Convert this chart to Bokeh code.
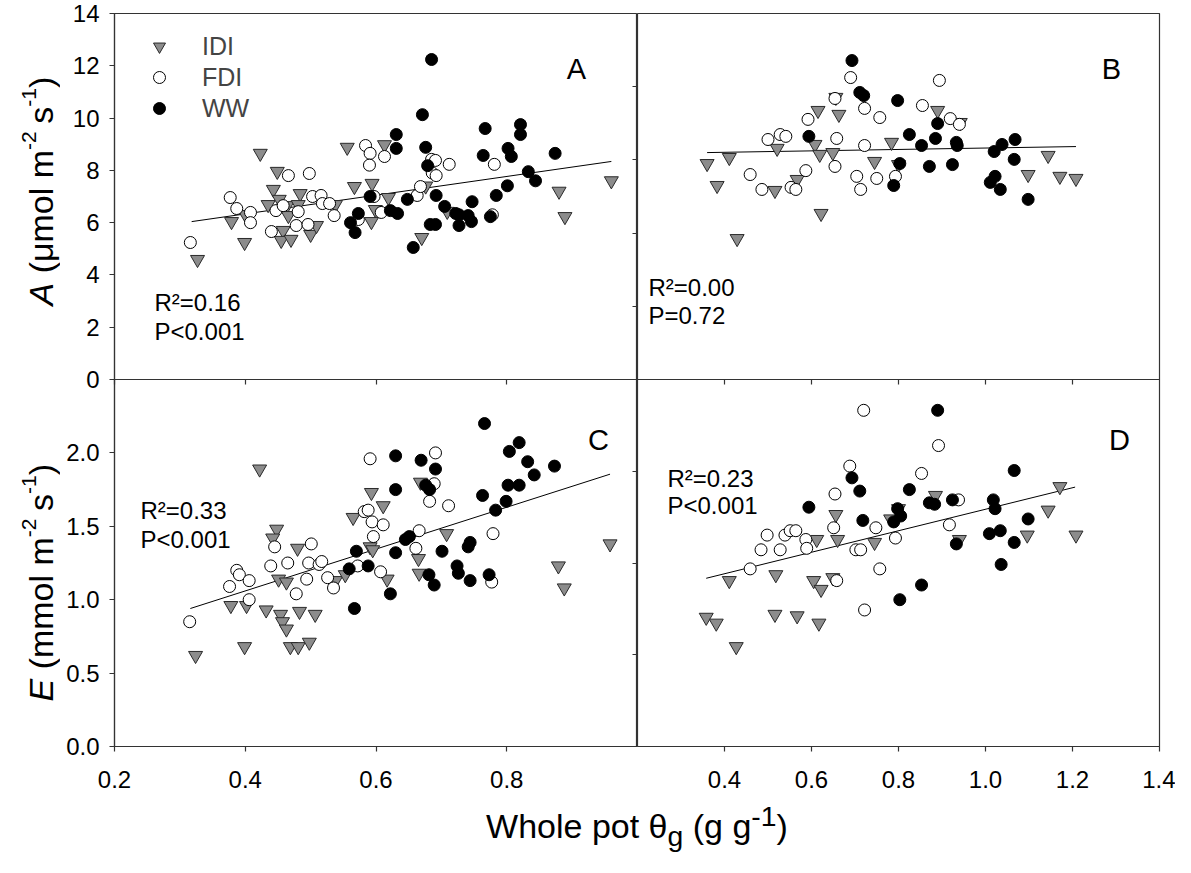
import math
from bokeh.plotting import figure
from bokeh.models import (LinearAxis, FixedTicker, Label, Legend, LegendItem,
                          Div, Spacer, Range1d, CustomJSTickFormatter)
from bokeh.layouts import row, column
from bokeh.embed import file_html
from bokeh.resources import INLINE

FONT = "Liberation Sans"

# ---------------- data: panel A (A vs theta, left) ----------------
a_idi_x = [0.327, 0.379, 0.399, 0.400, 0.423, 0.443, 0.435, 0.452, 0.449, 0.464, 0.466, 0.484,
           0.481, 0.458, 0.455, 0.470, 0.500, 0.509, 0.538, 0.556, 0.567, 0.594, 0.619, 0.599,
           0.593, 0.613, 0.676, 0.709, 0.670, 0.880, 0.889, 0.960]
a_idi_y = [4.59, 6.04, 5.24, 6.31, 8.65, 7.27, 6.69, 6.89, 7.96, 6.65, 6.27, 7.11,
           6.69, 5.70, 5.32, 5.36, 5.55, 5.89, 6.69, 8.88, 7.38, 7.50, 6.96, 6.50,
           6.04, 8.98, 7.40, 6.43, 5.43, 7.20, 6.23, 7.60]
a_fdi_x = [0.316, 0.377, 0.387, 0.408, 0.408, 0.447, 0.458, 0.481, 0.440, 0.478, 0.496, 0.503,
           0.516, 0.518, 0.529, 0.536, 0.466, 0.498, 0.584, 0.591, 0.590, 0.613, 0.597, 0.608,
           0.573, 0.663, 0.668, 0.685, 0.691, 0.686, 0.692, 0.712, 0.781, 0.778]
a_fdi_y = [5.24, 6.96, 6.54, 6.39, 6.00, 6.46, 6.65, 6.42, 5.66, 5.89, 5.93, 7.00,
           7.04, 6.73, 6.73, 6.27, 7.80, 7.88, 8.95, 8.65, 8.20, 8.53, 7.00, 6.39,
           6.12, 7.04, 7.38, 8.42, 8.38, 7.90, 7.80, 8.23, 8.23, 6.30]
a_ww_x = [0.573, 0.561, 0.568, 0.591, 0.622, 0.633, 0.648, 0.657, 0.631, 0.631, 0.685, 0.671,
          0.676, 0.679, 0.692, 0.705, 0.722, 0.727, 0.741, 0.746, 0.683, 0.691, 0.727, 0.747,
          0.775, 0.784, 0.801, 0.767, 0.764, 0.802, 0.807, 0.821, 0.821, 0.833, 0.844, 0.874]
a_ww_y = [6.35, 6.00, 5.62, 7.00, 6.46, 6.35, 6.89, 5.05, 9.37, 8.84, 12.24, 10.13,
          8.88, 8.18, 7.04, 6.62, 6.35, 6.30, 6.27, 6.04, 5.93, 5.93, 5.89, 6.80,
          6.23, 7.04, 7.41, 9.60, 8.57, 8.84, 8.53, 9.75, 9.37, 7.95, 7.60, 8.65]
a_fit_x = [0.318, 0.960]
a_fit_y = [6.04, 8.34]

# ---------------- data: panel B (A vs theta, right) ----------------
b_idi_x = [0.360, 0.411, 0.383, 0.429, 0.521, 0.516, 0.567, 0.615, 0.608, 0.619, 0.622, 0.649,
           0.656, 0.663, 0.745, 0.784, 0.800, 0.890, 0.942, 1.098, 1.144, 1.171, 1.208]
b_idi_y = [8.26, 8.49, 7.42, 5.39, 8.84, 7.23, 7.65, 10.29, 8.99, 8.61, 6.35, 8.68,
           10.79, 10.14, 8.34, 9.07, 8.22, 10.29, 9.83, 7.84, 8.57, 7.77, 7.69]
b_fdi_x = [0.459, 0.500, 0.528, 0.541, 0.486, 0.553, 0.564, 0.587, 0.592, 0.654, 0.654, 0.658,
           0.690, 0.722, 0.757, 0.722, 0.704, 0.750, 0.713, 0.793, 0.855, 0.894, 0.919, 0.940]
b_fdi_y = [7.84, 9.18, 9.37, 9.30, 7.27, 7.35, 7.27, 7.99, 9.95, 8.15, 10.75, 9.22,
           11.55, 10.37, 10.02, 8.95, 7.77, 7.69, 7.27, 7.77, 10.48, 11.44, 9.98, 9.76]
b_ww_x = [0.594, 0.693, 0.711, 0.720, 0.803, 0.789, 0.798, 0.825, 0.853, 0.871, 0.890, 0.885,
          0.933, 0.935, 0.924, 1.020, 1.038, 1.068, 1.066, 1.011, 1.022, 1.034, 1.098]
b_ww_y = [9.30, 12.20, 10.98, 10.86, 8.26, 7.42, 10.67, 9.37, 8.95, 8.15, 9.79, 9.22,
          9.07, 8.95, 8.22, 8.72, 8.99, 9.18, 8.42, 7.54, 7.77, 7.27, 6.89]
b_fit_x = [0.360, 1.208]
b_fit_y = [8.68, 8.91]

# ---------------- data: panel C (E vs theta, left) ----------------
c_idi_x = [0.324, 0.378, 0.402, 0.399, 0.422, 0.432, 0.448, 0.442, 0.451, 0.463, 0.454, 0.457,
           0.463, 0.469, 0.481, 0.498, 0.483, 0.507, 0.480, 0.538, 0.553, 0.565, 0.593, 0.611,
           0.591, 0.595, 0.617, 0.668, 0.665, 0.666, 0.708, 0.879, 0.888, 0.958]
c_idi_y = [0.62, 0.96, 0.96, 0.68, 1.89, 0.93, 1.48, 1.42, 1.14, 1.12, 0.90, 0.85,
           0.80, 0.68, 0.68, 0.71, 0.92, 0.90, 1.35, 1.13, 1.17, 1.56, 1.73, 1.64,
           1.36, 1.34, 1.14, 1.80, 1.28, 1.18, 1.45, 1.23, 1.08, 1.38]
c_fdi_x = [0.315, 0.376, 0.387, 0.391, 0.406, 0.406, 0.445, 0.439, 0.465, 0.478, 0.494, 0.497,
           0.501, 0.513, 0.517, 0.526, 0.535, 0.572, 0.582, 0.588, 0.591, 0.594, 0.596, 0.607,
           0.611, 0.661, 0.666, 0.682, 0.689, 0.691, 0.711, 0.777, 0.779]
c_fdi_y = [0.85, 1.09, 1.20, 1.17, 1.13, 1.00, 1.36, 1.23, 1.25, 1.04, 1.14, 1.25,
           1.38, 1.24, 1.26, 1.15, 1.08, 1.23, 1.60, 1.61, 1.96, 1.53, 1.43, 1.19,
           1.51, 1.35, 1.47, 1.67, 1.79, 2.00, 1.64, 1.12, 1.45]
c_ww_x = [0.559, 0.567, 0.570, 0.588, 0.622, 0.630, 0.630, 0.630, 0.645, 0.651, 0.669, 0.676,
          0.682, 0.691, 0.681, 0.689, 0.701, 0.724, 0.726, 0.741, 0.744, 0.744, 0.763, 0.766,
          0.773, 0.783, 0.799, 0.802, 0.804, 0.819, 0.819, 0.832, 0.842, 0.873]
c_ww_y = [1.21, 0.94, 1.33, 1.23, 1.04, 1.98, 1.75, 1.32, 1.41, 1.43, 1.95, 1.78,
          1.75, 1.89, 1.17, 1.10, 1.33, 1.23, 1.18, 1.36, 1.39, 1.13, 1.71, 2.20,
          1.17, 1.61, 1.67, 1.78, 2.01, 2.07, 1.78, 1.94, 1.85, 1.91]
c_fit_x = [0.316, 0.958]
c_fit_y = [0.94, 1.855]

# ---------------- data: panel D (E vs theta, right) ----------------
d_idi_x = [0.358, 0.381, 0.411, 0.427, 0.516, 0.518, 0.567, 0.605, 0.612, 0.617, 0.622, 0.649,
           0.656, 0.660, 0.745, 0.782, 0.800, 0.885, 0.940, 1.096, 1.144, 1.171, 1.208]
d_idi_y = [0.88, 0.84, 1.13, 0.68, 0.90, 1.17, 0.89, 1.13, 1.41, 0.84, 1.07, 1.15,
           1.58, 1.41, 1.39, 1.55, 1.62, 1.71, 1.41, 1.44, 1.61, 1.77, 1.44]
d_fdi_x = [0.459, 0.484, 0.498, 0.528, 0.539, 0.551, 0.564, 0.587, 0.589, 0.651, 0.654, 0.658,
           0.688, 0.702, 0.713, 0.720, 0.722, 0.748, 0.757, 0.793, 0.853, 0.892, 0.917, 0.938]
d_fdi_y = [1.21, 1.34, 1.44, 1.34, 1.44, 1.47, 1.47, 1.41, 1.35, 1.49, 1.72, 1.13,
           1.91, 1.34, 1.34, 2.29, 0.93, 1.49, 1.21, 1.42, 1.86, 2.05, 1.51, 1.68]
d_ww_x = [0.594, 0.693, 0.711, 0.718, 0.789, 0.798, 0.803, 0.805, 0.825, 0.853, 0.871, 0.883,
          0.890, 0.924, 0.933, 1.009, 1.018, 1.022, 1.034, 1.036, 1.066, 1.066, 1.098]
d_ww_y = [1.63, 1.83, 1.74, 1.54, 1.53, 1.62, 1.00, 1.57, 1.75, 1.10, 1.66, 1.65,
          2.29, 1.68, 1.38, 1.45, 1.68, 1.62, 1.47, 1.24, 1.88, 1.39, 1.55]
d_fit_x = [0.358, 1.206]
d_fit_y = [1.146, 1.767]

# ---------------- tick values ----------------
left_x_ticks = [0.2, 0.4, 0.6, 0.8]
right_x_ticks = [0.4, 0.6, 0.8, 1.0, 1.2, 1.4]
top_y_ticks = [0, 2, 4, 6, 8, 10, 12, 14]
bottom_y_ticks = [0.0, 0.5, 1.0, 1.5, 2.0]
b_side_ticks = [2.8, 5.6, 8.4, 11.2]
d_side_ticks = [0.625, 1.25, 1.875]

stats = {"A": ("R\u00b2=0.16", "P<0.001"), "B": ("R\u00b2=0.00", "P=0.72"),
         "C": ("R\u00b2=0.33", "P<0.001"), "D": ("R\u00b2=0.23", "P<0.001")}

AX = "#333333"
TICK_FS = "24px"
ANN_FS = "24px"
LET_FS = "29px"
TITLE_PX = 34
SUP_PX = 21

one_dec = CustomJSTickFormatter(code="return tick.toFixed(1);")
no_lab = CustomJSTickFormatter(code="return '';")


def make_fig(xr, yr, fw, fh, bl, br, bt, bb):
    p = figure(frame_width=fw, frame_height=fh, x_range=Range1d(*xr), y_range=Range1d(*yr),
               output_backend="svg", toolbar_location=None,
               x_axis_location=None, y_axis_location=None,
               min_border_left=bl, min_border_right=br, min_border_top=bt, min_border_bottom=bb)
    p.grid.visible = False
    p.outline_line_color = AX
    p.outline_line_width = 1.2
    p.outline_line_alpha = 1.0
    p.background_fill_color = "white"
    p.border_fill_color = "white"
    return p


def add_axis(p, side, ticks, labels=True, tick_in=0, tick_out=5, standoff=10, fmt=None):
    ax = LinearAxis(ticker=FixedTicker(ticks=ticks, minor_ticks=[]))
    ax.major_tick_in = tick_in
    ax.major_tick_out = tick_out
    ax.minor_tick_in = 0
    ax.minor_tick_out = 0
    ax.axis_line_color = AX
    ax.axis_line_width = 1.2
    ax.major_tick_line_color = AX
    ax.major_tick_line_width = 1.2
    if labels:
        ax.major_label_text_font = FONT
        ax.major_label_text_font_size = TICK_FS
        ax.major_label_text_color = "black"
        ax.major_label_standoff = standoff
        if fmt is not None:
            ax.formatter = fmt
    else:
        ax.formatter = no_lab
        ax.major_label_standoff = 0
        ax.major_label_orientation = "vertical" if side in ("above", "below") else "horizontal"
    p.add_layout(ax, side)
    return ax


def add_points(p, ix, iy, fx, fy, wx, wy, lx, ly):
    p.line(lx, ly, line_color="black", line_width=1)
    r1 = p.scatter(ix, iy, marker="inverted_triangle", size=14, fill_color="#8c8c8c",
                   line_color="#2a2a2a", line_width=1)
    r2 = p.scatter(fx, fy, marker="circle", size=12, fill_color="white",
                   line_color="black", line_width=1)
    r3 = p.scatter(wx, wy, marker="circle", size=12, fill_color="black",
                   line_color="black", line_width=1)
    return r1, r2, r3


def add_text(p, text, x, y, size=ANN_FS, align="left", style="normal", angle=0.0,
             baseline="alphabetic"):
    p.add_layout(Label(x=x, y=y, x_units="screen", y_units="screen", text=text,
                       text_font=FONT, text_font_size=size, text_align=align,
                       text_baseline=baseline, text_color="black",
                       text_font_style=style, angle=angle))


# ---------------- panel A ----------------
pA = make_fig((0.2, 1.0), (0, 14), 523, 366, 54, 0, 13, 14)
add_axis(pA, "left", top_y_ticks, labels=True, tick_out=5, standoff=10)
add_axis(pA, "right", b_side_ticks, labels=False, tick_in=5, tick_out=0)
rA = add_points(pA, a_idi_x, a_idi_y, a_fdi_x, a_fdi_y, a_ww_x, a_ww_y, a_fit_x, a_fit_y)
add_text(pA, stats["A"][0], 40, 77)
add_text(pA, stats["A"][1], 40, 48)
add_text(pA, "A", 462, 311, size=LET_FS, align="center")
legend = Legend(items=[LegendItem(label="IDI", renderers=[rA[0]]),
                       LegendItem(label="FDI", renderers=[rA[1]]),
                       LegendItem(label="WW", renderers=[rA[2]])],
                location=(30, 256), orientation="vertical")
legend.border_line_color = None
legend.background_fill_alpha = 0
legend.padding = 0
legend.margin = 0
legend.spacing = 1
legend.glyph_width = 30
legend.glyph_height = 30
legend.label_height = 30
legend.label_standoff = 28
legend.label_text_font = FONT
legend.label_text_font_size = "25px"
pA.add_layout(legend, "center")

# ---------------- panel B ----------------
pB = make_fig((0.2, 1.4), (0, 14), 522, 366, 0, 16, 13, 14)
add_points(pB, b_idi_x, b_idi_y, b_fdi_x, b_fdi_y, b_ww_x, b_ww_y, b_fit_x, b_fit_y)
add_text(pB, stats["B"][0], 11, 92)
add_text(pB, stats["B"][1], 11, 64)
add_text(pB, "B", 474, 311, size=LET_FS, align="center")

# ---------------- panel C ----------------
pC = make_fig((0.2, 1.0), (0, 2.5), 523, 367, 54, 0, 0, 45)
pC.border_fill_alpha = 0
add_axis(pC, "left", bottom_y_ticks, labels=True, tick_out=5, standoff=10, fmt=one_dec)
add_axis(pC, "below", left_x_ticks, labels=True, tick_out=5, standoff=19, fmt=one_dec)
add_axis(pC, "above", left_x_ticks, labels=False, tick_in=5, tick_out=0)
add_axis(pC, "right", d_side_ticks, labels=False, tick_in=5, tick_out=0)
add_points(pC, c_idi_x, c_idi_y, c_fdi_x, c_fdi_y, c_ww_x, c_ww_y, c_fit_x, c_fit_y)
add_text(pC, stats["C"][0], 26, 236)
add_text(pC, stats["C"][1], 26, 207)
add_text(pC, "C", 484, 307, size=LET_FS, align="center")

# ---------------- panel D ----------------
pD = make_fig((0.2, 1.4), (0, 2.5), 522, 367, 0, 16, 0, 45)
pD.border_fill_alpha = 0
add_axis(pD, "below", right_x_ticks, labels=True, tick_out=5, standoff=19, fmt=one_dec)
add_axis(pD, "above", right_x_ticks[:-1], labels=False, tick_in=5, tick_out=0)
add_points(pD, d_idi_x, d_idi_y, d_fdi_x, d_fdi_y, d_ww_x, d_ww_y, d_fit_x, d_fit_y)
add_text(pD, stats["D"][0], 30, 268)
add_text(pD, stats["D"][1], 30, 241)
add_text(pD, "D", 482, 307, size=LET_FS, align="center")

# ---------------- y titles (narrow side figure) ----------------
pT = figure(frame_width=60, frame_height=746, output_backend="svg", toolbar_location=None,
            x_axis_location=None, y_axis_location=None,
            min_border_left=0, min_border_right=0, min_border_top=0, min_border_bottom=0)
pT.grid.visible = False
pT.outline_line_color = None
pT.border_fill_color = "white"
pT.background_fill_color = "white"

UP = math.pi / 2
FS = f"{TITLE_PX}px"
SS = f"{SUP_PX}px"
xb = 40      # baseline of rotated title (screen x inside side figure)
xs = 28      # baseline of superscripts
SP = 0.278   # width of a space (em)


def ytitle(y0, sym, unit, unit_em):
    # chain rotated pieces using Liberation Sans advance widths
    add_text(pT, sym, xb, y0, size=FS, style="italic", angle=UP)
    y = y0 + (0.667 + SP) * TITLE_PX
    add_text(pT, unit, xb, y, size=FS, angle=UP)
    y += unit_em * TITLE_PX
    add_text(pT, "-2", xs, y, size=SS, angle=UP)
    y += (0.889 + SP) * SUP_PX + 0.05 * TITLE_PX
    add_text(pT, "s", xb, y, size=FS, angle=UP)
    y += 0.5 * TITLE_PX
    add_text(pT, "-1", xs, y, size=SS, angle=UP)
    y += 0.889 * SUP_PX
    add_text(pT, ")", xb, y, size=FS, angle=UP)


ytitle(441, "A", "(\u03bcmol m", 3.631)
ytitle(45, "E", "(mmol m", 3.888)

# ---------------- x title ----------------
xtitle = Div(text="Whole pot \u03b8<sub>g</sub> (g g<sup>-1</sup>)", width=1076, height=48,
             styles={"font-family": FONT, "font-size": f"{TITLE_PX}px", "text-align": "center",
                     "color": "black"})

main = column(row(pA, pB),
              row(pC, pD, styles={"margin-top": "-14px"}),
              row(Spacer(width=34, height=48), xtitle))
layout = row(pT, main)

open("out.html", "w").write(file_html(layout, INLINE))
